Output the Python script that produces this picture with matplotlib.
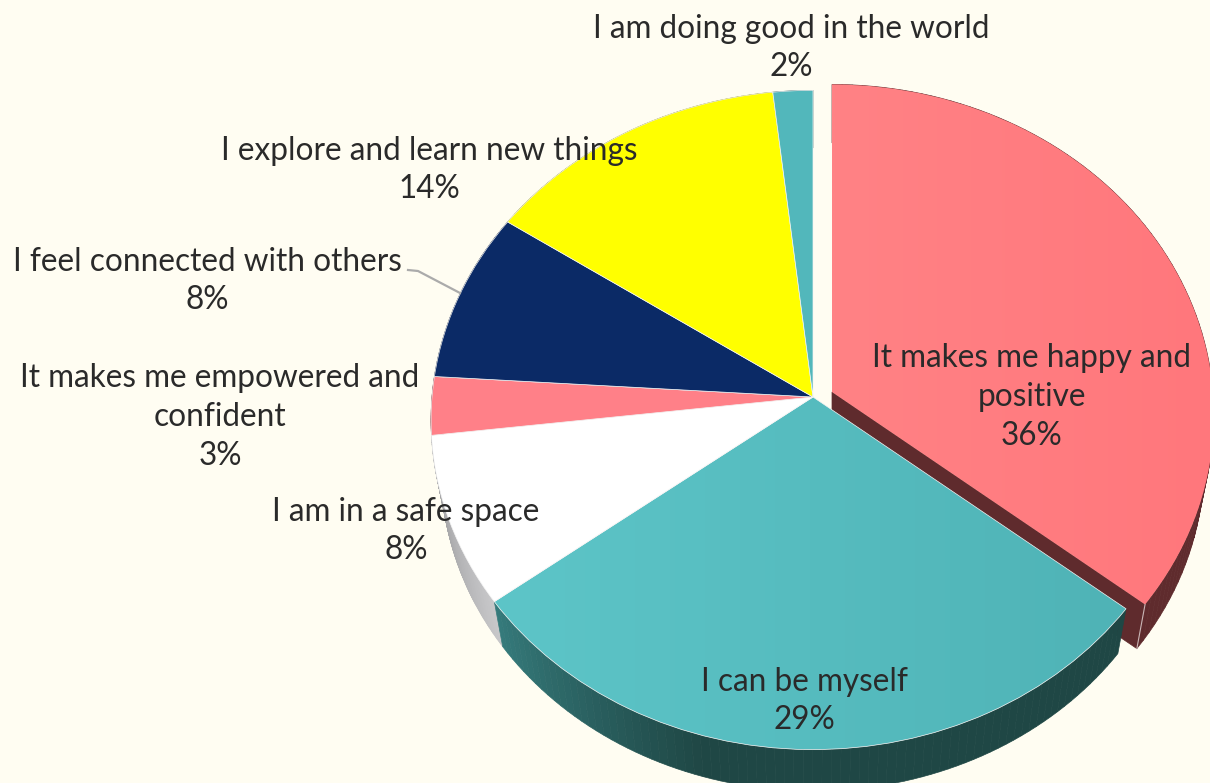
# Pie of reasons, tilted with a small perspective and a side wall
import numpy as np
import matplotlib.pyplot as plt
from matplotlib.transforms import Transform

labels = ['It makes me happy and\npositive', 'I can be myself', 'I am in a safe space',
          'It makes me empowered and\nconfident', 'I feel connected with others',
          'I explore and learn new things', 'I am doing good in the world']
values = [35.6, 29.2, 8.35, 2.85, 8.35, 13.85, 1.8]
colors = ['#FF7F82', '#55BCBF', '#FFFFFF', '#FF8088', '#0B2A66', '#FFFF00', '#52B7BB']
wall_colors = ['#5F2B2D', '#1F4745', '#A9A9AB', '#7F4044', '#061533', '#808000', '#295B5D']

# label anchor (centre x, centre y) in picture pixels
label_pos = [(1032, 397), (804, 701), (406, 531), (220, 417), (207, 281), (429, 170), (791, 48)]

bg = '#FFFDF2'


class Tilt(Transform):
    input_dims = 2
    output_dims = 2

    def __init__(self, cx, cy, rx, ry, k=0.0697):
        super().__init__()
        self.cx, self.cy, self.rx, self.ry, self.k = cx, cy, rx, ry, k

    def transform_non_affine(self, xy):
        xy = np.asarray(xy, dtype=float)
        w = 1 + self.k * xy[:, 1]
        return np.column_stack([self.cx + self.rx * xy[:, 0] / w, self.cy - self.ry * xy[:, 1] / w])


def arc(t1, t2, n=80):
    t = np.radians(np.linspace(t1, t2, n))
    return np.column_stack([np.cos(t), np.sin(t)])


def rgb(h):
    return np.array([int(h[i:i + 2], 16) for i in (1, 3, 5)]) / 255


fig = plt.figure(figsize=(12.1, 7.83), dpi=100, facecolor=bg)
ax = fig.add_axes([0, 0, 1, 1])
wedges, _ = ax.pie(values, colors=colors, startangle=90, counterclock=False, frame=False,
                   wedgeprops={'edgecolor': '#F4F4F4', 'linewidth': 0.5})

top = Tilt(813, 397, 381, 328)
bottom = Tilt(813, 447, 371, 320)
top_x = Tilt(832, 392, 381, 329)
bottom_x = Tilt(832, 442, 371, 320)

# side walls, the exploded slice first so the rest sit over it
order = [0, 6, 5, 4, 3, 2, 1]
for z, i in enumerate(order):
    w = wedges[i]
    t_top, t_bot = (top_x, bottom_x) if i == 0 else (top, bottom)
    pts = arc(w.theta1, w.theta2)
    a = t_top.transform(pts)
    b = t_bot.transform(pts)
    for j in range(len(pts) - 1):
        f = j / (len(pts) - 1)
        c = wall_colors[i]
        if i == 1:
            # teal wall: lighter on the left, flat dark from the middle on
            g = min(f / 0.35, 1)
            c = rgb('#357A7B') * (1 - g) + rgb('#1F4745') * g
        if i == 2:
            c = rgb('#C8C8CA') * f + rgb('#98989A') * (1 - f)
        ax.fill([a[j, 0], a[j + 1, 0], b[j + 1, 0], b[j, 0]],
                [a[j, 1], a[j + 1, 1], b[j + 1, 1], b[j, 1]],
                color=c, lw=0.5, zorder=1 + z * 0.1)
    if i == 0:
        # cut face of the exploded slice
        end = arc(w.theta1, w.theta1, 1)
        o = np.zeros((1, 2))
        q = np.vstack([t_top.transform(o), t_top.transform(end), t_bot.transform(end), t_bot.transform(o)])
        ax.fill(q[:, 0], q[:, 1], color=wall_colors[0], lw=0.5, zorder=1.05)
        ax.plot([q[1, 0], q[2, 0]], [q[1, 1], q[2, 1]], color='#C9B5B5', lw=0.8, zorder=1.06)

for i, w in enumerate(wedges):
    t = top_x if i == 0 else top
    w.set_transform(t + ax.transData)
    w.set_zorder(3 if i != 0 else 2)

# soft left to right shading on the two big slices
shades = {0: ('#FF8285', '#FF777C'), 1: ('#5DC5C8', '#4FB3B6')}
for i, (c1, c2) in shades.items():
    grad = np.linspace(rgb(c1), rgb(c2), 64)[None, :, :]
    x0, x1 = (832, 1213) if i == 0 else (490, 1130)
    y0, y1 = (80, 615) if i == 0 else (395, 755)
    im = ax.imshow(grad, extent=(x0, x1, y1, y0), aspect='auto', interpolation='bilinear',
                   zorder=wedges[i].get_zorder() - 0.05)
    im.set_clip_path(wedges[i])
    wedges[i].set_facecolor('none')
    if i == 0:
        wedges[i].set_edgecolor('none')

ax.set_aspect('auto')
ax.set_xlim(0, 1210)
ax.set_ylim(783, 0)
ax.axis('off')

# leader line
ax.plot([408, 418, 460], [270, 271, 293], color='#ABABAB', lw=1.6, zorder=4)

for s, v, (x, y) in zip(labels, values, label_pos):
    ax.text(x, y, f'{s}\n{v:.0f}%', ha='center', va='center', multialignment='center',
            family='Lato', fontsize=22.7, color='#2A2A2A', linespacing=1.36, zorder=5)

fig.savefig('out.png', dpi=100, facecolor=bg)
